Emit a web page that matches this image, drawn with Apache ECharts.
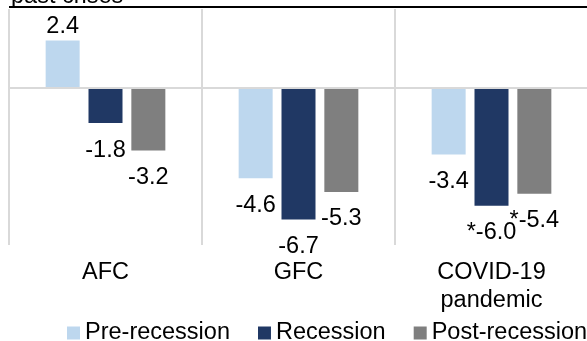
<!DOCTYPE html>
<html>
<head>
<meta charset="utf-8">
<style>
  html, body { margin: 0; padding: 0; background: #fff; }
  #chart { width: 587px; height: 341px; }
</style>
<script src="https://cdn.jsdelivr.net/npm/echarts@6/dist/echarts.min.js"></script>
</head>
<body>
<div id="chart"></div>
<script>
// Growth change around each crisis (percentage points)
const categories = ['AFC', 'GFC', 'COVID-19\npandemic'];
const seriesNames = ['Pre-recession', 'Recession', 'Post-recession'];
const preRecession = [2.4, -4.6, -3.4];
const recession = [-1.8, -6.7, -6.0];
const postRecession = [-3.2, -5.3, -5.4];
// Significance markers shown before the value label
const preMarks = ['', '', ''];
const recessionMarks = ['', '', '*'];
const postMarks = ['', '', '*'];
const yTicks = { min: -8, max: 4, interval: 4 };

const FONT = 'Liberation Sans, Arial, sans-serif';
const FONT_SIZE = 23.5;
const colors = ['#BDD7EE', '#203864', '#7F7F7F'];

function buildData(values, marks) {
  return values.map((v, i) => ({
    value: v,
    label: {
      position: v >= 0 ? 'top' : 'bottom',
      distance: v >= 0 ? 2 : 15,
      formatter: marks[i] + v.toFixed(1)
    }
  }));
}

function barSeries(name, values, marks, color, withZeroLine) {
  const s = {
    name: name,
    type: 'bar',
    barWidth: 34,
    barGap: '26%',
    itemStyle: { color: color },
    label: {
      show: true,
      color: '#000',
      fontFamily: FONT,
      fontSize: FONT_SIZE
    },
    data: buildData(values, marks)
  };
  if (withZeroLine) {
    s.markLine = {
      silent: true,
      symbol: 'none',
      label: { show: false },
      lineStyle: { color: '#D9D9D9', width: 2, type: 'solid' },
      data: [{ yAxis: 0 }]
    };
  }
  return s;
}

const chart = echarts.init(document.getElementById('chart'), null, { renderer: 'canvas' });
chart.setOption({
  animation: false,
  backgroundColor: '#fff',
  textStyle: { fontFamily: FONT },
  grid: { left: 9, top: 9, width: 579, height: 236, containLabel: false, outerBoundsMode: 'none' },
  xAxis: {
    type: 'category',
    data: categories,
    position: 'bottom',
    axisLine: { show: false, onZero: false },
    axisTick: { show: false },
    splitLine: { show: true, interval: 0, lineStyle: { color: '#D9D9D9', width: 2 } },
    axisLabel: {
      interval: 0,
      margin: 14,
      color: '#000',
      fontFamily: FONT,
      fontSize: FONT_SIZE,
      lineHeight: 28
    }
  },
  yAxis: {
    type: 'value',
    min: yTicks.min,
    max: yTicks.max,
    interval: yTicks.interval,
    show: false,
    splitLine: { show: false }
  },
  legend: {
    data: seriesNames,
    left: 67,
    top: 321,
    width: 560,
    itemWidth: 13,
    itemHeight: 13,
    itemGap: 28,
    icon: 'rect',
    padding: 0,
    textStyle: { color: '#000', fontFamily: FONT, fontSize: FONT_SIZE }
  },
  graphic: [
    {
      type: 'text',
      left: 11,
      top: -15,
      style: { text: 'past crises', fill: '#000', font: FONT_SIZE + 'px ' + FONT }
    },
    {
      type: 'line',
      shape: { x1: 9, y1: 7, x2: 587, y2: 7 },
      style: { stroke: '#000', lineWidth: 2 }
    }
  ],
  series: [
    barSeries(seriesNames[0], preRecession, preMarks, colors[0], true),
    barSeries(seriesNames[1], recession, recessionMarks, colors[1], false),
    barSeries(seriesNames[2], postRecession, postMarks, colors[2], false)
  ]
});
</script>
</body>
</html>
